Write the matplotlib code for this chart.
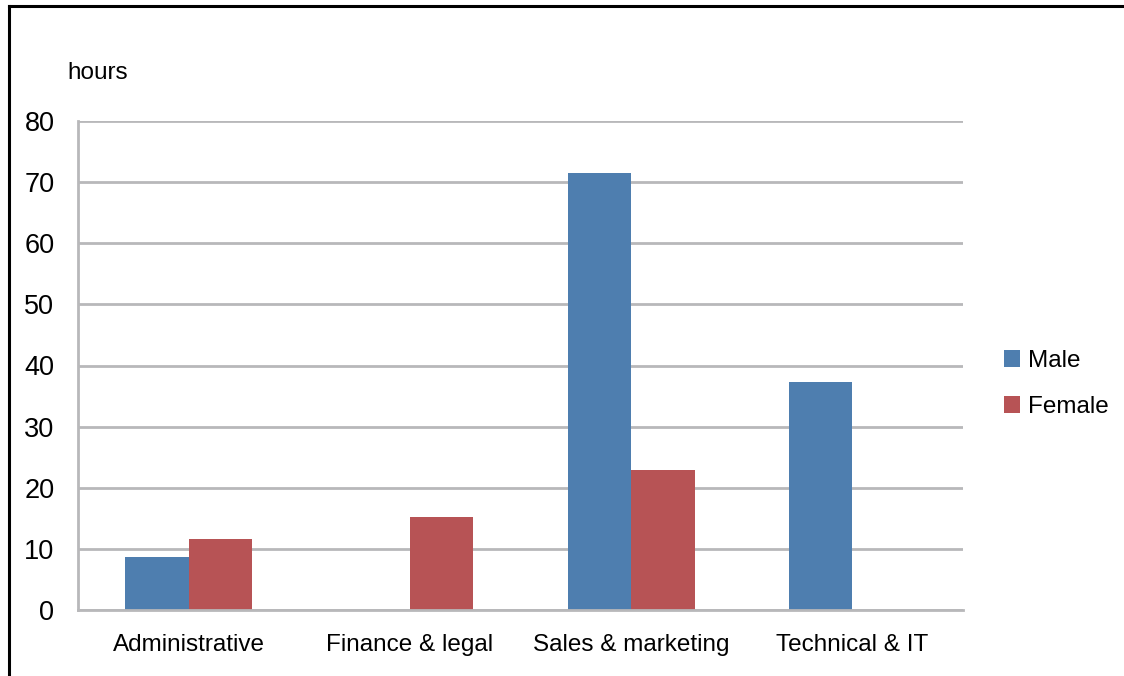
import matplotlib
matplotlib.use("Agg")
import matplotlib.pyplot as plt
import numpy as np
from matplotlib.lines import Line2D

categories = ["Administrative", "Finance & legal", "Sales & marketing", "Technical & IT"]
male = [8.6, 0, 71.5, 37.3]
female = [11.6, 15.2, 22.9, 0]
series_names = ["Male", "Female"]
yticks = [0, 10, 20, 30, 40, 50, 60, 70, 80]

blue = "#4E7EAF"
red = "#B75355"
grid_c = "#B8B8BA"

plt.rcParams['font.family'] = ['Liberation Sans', 'DejaVu Sans']

W, H = 1124, 676
fig = plt.figure(figsize=(W / 100, H / 100), dpi=100)
left, right, top, bottom = 78, 963, 121, 610
ax = fig.add_axes([left / W, 1 - bottom / H, (right - left) / W, (bottom - top) / H])

x = np.arange(len(categories))
bw = 0.287
ax.bar(x - bw / 2, male, width=bw, color=blue, label=series_names[0], zorder=3)
ax.bar(x + bw / 2, female, width=bw, color=red, label=series_names[1], zorder=3)

ax.set_xlim(-0.5, len(categories) - 0.5)
ax.set_ylim(0, 80)
ax.set_yticks(yticks)
ax.set_xticks(x)
ax.set_xticklabels(categories, fontsize=17.5)
ax.tick_params(axis='y', labelsize=19.5, length=0, pad=17)
ax.tick_params(axis='x', length=0, pad=17)
for lbl in ax.get_yticklabels():
    lbl.set_horizontalalignment('right')

ax.grid(axis='y', color=grid_c, linewidth=2, zorder=0)
for s in ['top', 'right']:
    ax.spines[s].set_visible(False)
ax.spines['left'].set_color(grid_c)
ax.spines['left'].set_linewidth(2)
ax.spines['bottom'].set_color(grid_c)
ax.spines['bottom'].set_linewidth(2)
ax.spines['bottom'].set_zorder(4)

fig.text(67 / W, 1 - 73 / H, "hours", fontsize=17.5, ha='left', va='center')

leg = ax.legend(loc='center left', bbox_to_anchor=(1004 / W, 1 - 384 / H),
                bbox_transform=fig.transFigure, frameon=False, fontsize=17.5,
                handlelength=0.67, handleheight=0.67, handletextpad=0.3,
                labelspacing=1.0, borderpad=0, borderaxespad=0)

# outer frame (top and left visible)
fig.add_artist(Line2D([9 / W, 1], [1 - 6 / H, 1 - 6 / H], transform=fig.transFigure, color='black', linewidth=2.2))
fig.add_artist(Line2D([9 / W, 9 / W], [0, 1 - 6 / H], transform=fig.transFigure, color='black', linewidth=2.2))

fig.savefig("out.png", dpi=100)
